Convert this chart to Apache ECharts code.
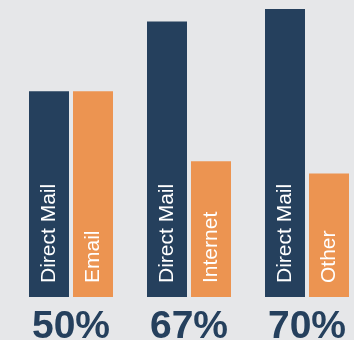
<!DOCTYPE html>
<html><head><meta charset="utf-8">
<script src="https://cdn.jsdelivr.net/npm/echarts@6/dist/echarts.min.js"></script>
<style>html,body{margin:0;padding:0;background:#e6e7e9;overflow:hidden}#c{width:354px;height:340px}</style>
</head><body><div id="c"></div>
<script>
const categories = ['50%', '67%', '70%'];
const directMail = [50, 67, 70];
const otherValues = [50, 33, 30];
const otherNames = ['Email', 'Internet', 'Other'];
const directMailName = 'Direct Mail';

const chart = echarts.init(document.getElementById('c'));
const labelBase = {
  show: true, position: 'insideBottom', rotate: 90, align: 'left', verticalAlign: 'middle',
  distance: 14, color: '#ffffff', fontFamily: 'Liberation Sans, Arial, sans-serif', fontSize: 21
};
chart.setOption({
  backgroundColor: '#e6e7e9',
  animation: false,
  grid: { left: 12, width: 354, top: 0, bottom: 43, outerBoundsMode: 'none', containLabel: false },
  xAxis: {
    type: 'category', data: categories,
    axisLine: { show: false }, axisTick: { show: false },
    axisLabel: { margin: 11, color: '#25405d', fontWeight: 'bold', fontSize: 39, fontFamily: 'Liberation Sans, Arial, sans-serif' }
  },
  yAxis: { type: 'value', min: 0, max: 72.2, show: false, splitLine: { show: false } },
  series: [
    { type: 'bar', data: directMail, barWidth: 40, barGap: '10%', itemStyle: { color: '#25405d' },
      label: Object.assign({}, labelBase, { formatter: () => directMailName }) },
    { type: 'bar', data: otherValues, barWidth: 40, barGap: '10%', itemStyle: { color: '#ec9451' },
      label: Object.assign({}, labelBase, { formatter: p => otherNames[p.dataIndex] }) }
  ]
});
</script></body></html>
